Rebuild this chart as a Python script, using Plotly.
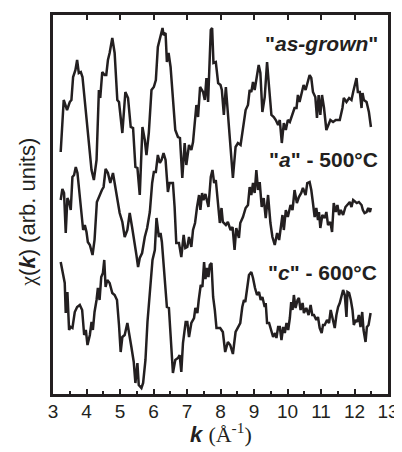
import plotly.graph_objects as go

# k (1/Angstrom) and chi(k) in arbitrary units (curves stacked with offsets)
k_asgrown = [3.23,3.32,3.42,3.50,3.55,3.60,3.67,3.72,3.77,3.83,3.88,3.95,4.04,4.15,4.22,4.30,4.37,4.41,4.47,4.54,
             4.59,4.64,4.69,4.77,4.84,4.92,4.97,5.07,5.16,5.24,5.32,5.39,5.46,5.52,5.59,5.67,5.74,5.79,5.86,5.94,
             6.01,6.07,6.13,6.21,6.27,6.30,6.36,6.40,6.45,6.51,6.58,6.65,6.73,6.79,6.86,6.93,6.98,7.06,7.13,7.18,
             7.28,7.33,7.39,7.48,7.53,7.58,7.63,7.71,7.75,7.79,7.86,7.93,8.00,8.04,8.10,8.16,8.22,8.30,8.37,8.45,
             8.52,8.60,8.67,8.75,8.82,8.87,8.92,8.97,9.02,9.07,9.14,9.19,9.25,9.32,9.39,9.45,9.52,9.59,9.65,9.72,
             9.77,9.83,9.89,9.95,10.01,10.07,10.15,10.21,10.27,10.31,10.36,10.41,10.48,10.54,10.61,10.66,10.71,10.76,10.83,10.88,
             10.93,10.98,11.03,11.09,11.16,11.22,11.28,11.36,11.44,11.56,11.64,11.68,11.76,11.84,11.91,11.96,12.01,12.06,12.10,12.16,
             12.21,12.24,12.28,12.36,12.43,12.49]
chi_asgrown = [242,294,284,292,294,317,324,334,321,322,317,294,261,224,214,234,304,296,322,319,
               319,334,341,356,341,294,292,261,302,296,267,266,227,226,199,267,254,239,261,304,
               307,314,347,357,366,359,361,332,341,327,297,264,257,256,216,251,229,249,244,252,
               289,277,307,302,294,316,292,364,366,331,332,311,309,304,279,307,281,242,216,247,
               251,249,267,284,289,304,302,312,304,316,329,321,282,297,332,307,279,277,274,269,
               274,251,271,264,274,272,279,286,286,299,292,299,309,304,312,319,316,302,297,276,
               299,279,299,286,264,269,274,272,274,274,286,296,292,296,294,302,309,316,302,302,
               286,301,294,292,282,267]

k_a500 = [3.23,3.28,3.33,3.38,3.43,3.48,3.53,3.58,3.63,3.68,3.73,3.78,3.85,3.90,3.95,4.00,4.04,4.10,4.18,4.24,
          4.31,4.39,4.46,4.51,4.57,4.64,4.71,4.79,4.84,4.91,4.99,5.07,5.14,5.22,5.29,5.36,5.42,5.49,5.54,5.59,
          5.66,5.74,5.81,5.89,5.96,6.01,6.07,6.13,6.19,6.24,6.30,6.36,6.43,6.48,6.58,6.63,6.68,6.76,6.83,6.90,
          6.95,7.01,7.06,7.13,7.18,7.24,7.30,7.36,7.40,7.45,7.49,7.55,7.64,7.71,7.76,7.81,7.86,7.93,7.98,8.03,
          8.07,8.16,8.22,8.30,8.36,8.42,8.47,8.55,8.59,8.67,8.75,8.82,8.87,8.92,8.97,9.02,9.07,9.12,9.17,9.23,
          9.29,9.35,9.42,9.49,9.55,9.62,9.69,9.75,9.79,9.85,9.89,9.95,10.01,10.09,10.15,10.21,10.28,10.34,10.41,10.46,
          10.54,10.59,10.66,10.71,10.76,10.81,10.86,10.91,10.94,10.98,11.04,11.11,11.16,11.21,11.28,11.33,11.38,11.44,11.49,11.54,
          11.59,11.66,11.73,11.79,11.86,11.91,11.96,12.03,12.07,12.13,12.21,12.25,12.30,12.36,12.41,12.46,12.49]
chi_a500 = [194,205,201,161,196,192,184,217,219,227,221,204,187,164,169,162,152,149,139,154,
            192,199,204,207,225,221,211,221,211,196,181,172,157,164,181,167,156,139,127,136,
            141,157,166,182,211,222,222,239,231,234,241,234,202,211,211,187,151,151,137,159,
            146,147,157,147,164,171,187,199,184,201,194,200,187,217,224,211,214,187,171,186,
            172,169,172,164,167,144,166,156,171,177,186,189,207,199,211,201,224,204,212,187,
            196,176,199,171,157,149,161,154,166,179,164,184,177,189,184,204,191,197,201,206,
            199,211,212,204,191,177,186,174,182,166,179,176,182,169,172,162,191,182,189,179,
            184,179,187,189,192,187,194,192,191,192,189,184,181,182,186,182,186]

k_c600 = [3.23,3.30,3.35,3.38,3.43,3.48,3.53,3.58,3.65,3.72,3.80,3.87,3.93,3.98,4.03,4.10,4.15,4.19,4.24,4.30,
          4.34,4.39,4.44,4.49,4.53,4.57,4.62,4.69,4.77,4.84,4.91,4.97,5.02,5.07,5.14,5.22,5.27,5.34,5.41,5.46,
          5.52,5.56,5.64,5.69,5.76,5.82,5.89,5.97,6.04,6.09,6.16,6.21,6.25,6.33,6.40,6.46,6.53,6.58,6.65,6.73,
          6.78,6.83,6.88,6.96,7.01,7.06,7.13,7.21,7.25,7.31,7.35,7.41,7.46,7.51,7.55,7.60,7.64,7.68,7.73,7.78,
          7.83,7.88,7.99,8.07,8.14,8.22,8.29,8.37,8.45,8.52,8.59,8.65,8.70,8.74,8.79,8.85,8.92,8.97,9.03,9.09,
          9.15,9.20,9.25,9.32,9.35,9.39,9.45,9.52,9.57,9.63,9.67,9.72,9.77,9.82,9.87,9.92,9.97,10.02,10.07,10.11,
          10.15,10.19,10.24,10.30,10.34,10.39,10.45,10.49,10.56,10.63,10.69,10.74,10.79,10.86,10.91,10.96,11.02,11.06,11.11,11.18,
          11.24,11.29,11.34,11.41,11.46,11.51,11.56,11.61,11.66,11.71,11.76,11.79,11.84,11.89,11.94,11.98,12.03,12.08,12.13,12.18,
          12.23,12.27,12.33,12.37,12.42,12.48]
chi_c600 = [132,117,111,81,102,64,67,66,82,87,89,84,59,64,49,59,72,64,82,94,
            106,94,117,121,134,107,114,111,101,99,94,69,42,57,59,71,59,47,32,11,
            31,9,6,11,34,72,101,134,144,176,157,161,152,117,87,86,44,21,34,36,
            39,22,51,72,72,57,71,76,86,81,94,109,107,132,115,126,117,129,131,97,
            84,66,66,62,42,52,49,40,62,67,71,87,94,92,107,119,122,116,106,99,
            102,94,97,87,91,71,71,62,57,61,56,67,67,54,67,61,71,64,76,92,
            84,99,86,94,96,84,91,81,86,79,89,79,79,74,77,66,61,69,69,74,
            71,84,77,66,79,87,91,99,104,99,77,102,101,94,84,69,74,72,79,67,
            82,64,52,67,69,81]

x_ticks = [3, 4, 5, 6, 7, 8, 9, 10, 11, 12, 13]
labels = ['"<i>as-grown</i>"', '"<i>a</i>" - 500°C', '"<i>c</i>" - 600°C']
x_title = '<b><i>k</i></b> <span style="font-family:Liberation Serif">(Å<sup>-1</sup>)</span>'
y_title = '<span style="font-family:Liberation Serif">χ</span>(<b><i>k</i></b>) (arb. units)'

INK = "#231f20"
fig = go.Figure()
for kk, cc in [(k_asgrown, chi_asgrown), (k_a500, chi_a500), (k_c600, chi_c600)]:
    fig.add_trace(go.Scatter(x=kk, y=cc, mode="lines",
                             line=dict(color=INK, width=2.5), showlegend=False, hoverinfo="skip"))

label_pos = [(0.977, 0.924), (0.977, 0.618), (0.972, 0.321)]
for txt, (px, py) in zip(labels, label_pos):
    fig.add_annotation(text="<b>" + txt + "</b>", xref="paper", yref="paper", x=px, y=py,
                       xanchor="right", yanchor="middle", showarrow=False,
                       font=dict(family="Liberation Sans, Arial", size=21, color=INK))

fig.add_annotation(text=x_title, xref="paper", yref="paper", x=0.50, y=-0.103,
                   xanchor="center", yanchor="middle", showarrow=False,
                   font=dict(family="Liberation Sans, Arial", size=22, color=INK))
fig.add_annotation(text=y_title, xref="paper", yref="paper", x=-0.077, y=0.479,
                   xanchor="center", yanchor="middle", showarrow=False, textangle=-90,
                   font=dict(family="Liberation Sans, Arial", size=22, color=INK))

# the page body has an 8px default margin; margins below place the plot frame
# at x 53..388, y 15..394 of the window
fig.update_layout(
    template="none",
    width=402, height=452,
    margin=dict(l=45, r=22, t=7, b=66),
    paper_bgcolor="white", plot_bgcolor="white",
    font=dict(family="Liberation Sans, Arial", color=INK),
    xaxis=dict(range=[3, 13], tickvals=x_ticks, ticktext=[str(t) for t in x_ticks],
               ticks="inside", ticklen=5, tickwidth=2, tickcolor=INK,
               showline=True, linewidth=3, linecolor=INK, mirror=True,
               showgrid=False, zeroline=False, automargin=False,
               tickfont=dict(size=19, color=INK), ticklabelstandoff=-2,
               minor=dict(ticks="inside", dtick=0.5, ticklen=3, tickwidth=2, tickcolor=INK, showgrid=False)),
    xaxis2=dict(range=[3, 13], overlaying="x", side="top", tickvals=x_ticks,
                ticks="inside", ticklen=5, tickwidth=2, tickcolor=INK, automargin=False,
                showticklabels=False, showline=False, showgrid=False, zeroline=False),
    yaxis=dict(range=[0, 379], showticklabels=False, ticks="", automargin=False,
               showline=True, linewidth=3, linecolor=INK, mirror=True,
               showgrid=False, zeroline=False),
)
fig.add_trace(go.Scatter(x=[3], y=[-100], xaxis="x2", mode="lines", showlegend=False, hoverinfo="skip"))
fig.write_html("out.html")
